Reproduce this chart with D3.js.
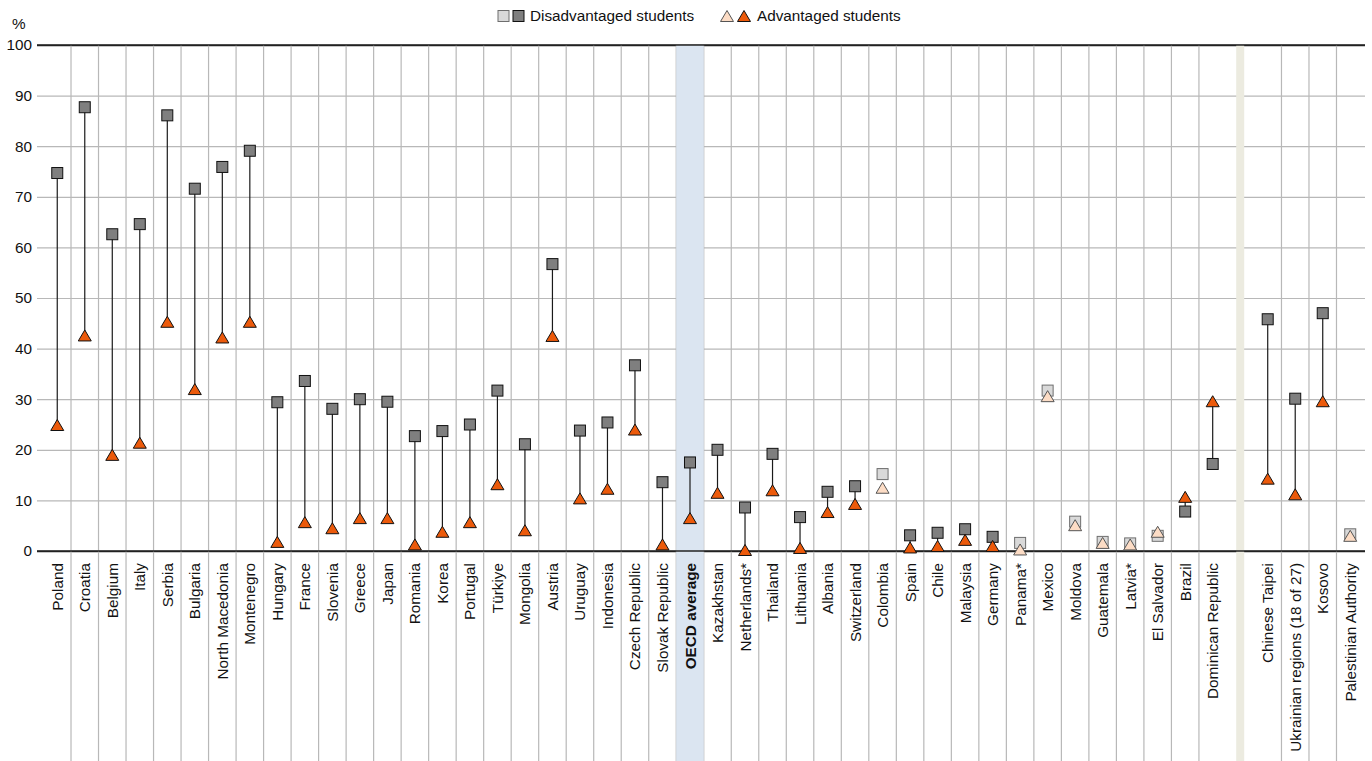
<!DOCTYPE html>
<html>
<head>
<meta charset="utf-8">
<script src="https://cdn.jsdelivr.net/npm/d3@7"></script>
<style>
  html, body { margin: 0; padding: 0; background: #fff; }
  svg { display: block; font-family: "Liberation Sans", Arial, sans-serif; }
</style>
</head>
<body>
<svg id="chart" width="1372" height="761"></svg>
<script>
// ---- data ----
const categories = ["Poland","Croatia","Belgium","Italy","Serbia","Bulgaria","North Macedonia","Montenegro","Hungary","France","Slovenia","Greece","Japan","Romania","Korea","Portugal","Türkiye","Mongolia","Austria","Uruguay","Indonesia","Czech Republic","Slovak Republic","OECD average","Kazakhstan","Netherlands*","Thailand","Lithuania","Albania","Switzerland","Colombia","Spain","Chile","Malaysia","Germany","Panama*","Mexico","Moldova","Guatemala","Latvia*","El Salvador","Brazil","Dominican Republic","","Chinese Taipei","Ukrainian regions (18 of 27)","Kosovo","Palestinian Authority"];
const disadvantaged = [74.7,87.7,62.6,64.6,86.1,71.6,75.9,79.1,29.4,33.6,28.1,30.0,29.5,22.7,23.7,25.0,31.7,21.1,56.7,23.8,25.4,36.7,13.6,17.5,20.0,8.6,19.2,6.7,11.7,12.8,15.2,3.1,3.6,4.3,2.8,1.6,31.7,5.8,1.8,1.5,3.0,7.8,17.2,null,45.8,30.1,47.0,3.3];
const advantaged = [24.9,42.6,19.0,21.4,45.3,32.0,42.2,45.3,1.8,5.7,4.5,6.5,6.5,1.3,3.8,5.7,13.2,4.1,42.5,10.4,12.3,24.0,1.3,6.5,11.5,0.2,12.0,0.6,7.7,9.3,12.5,0.7,1.0,2.2,1.0,0.3,30.6,5.1,1.6,1.3,3.8,10.7,29.6,null,14.3,11.2,29.6,3.0];
const significant = [1,1,1,1,1,1,1,1,1,1,1,1,1,1,1,1,1,1,1,1,1,1,1,1,1,1,1,1,1,1,0,1,1,1,1,0,0,0,0,0,0,1,1,null,1,1,1,0];
const yTicks = [0,10,20,30,40,50,60,70,80,90,100];
const averageLabel = "OECD average";
const legendLabels = ["Disadvantaged students","Advantaged students"];

// ---- styles ----
const C = {
  darkSq: "#7f7f7f", lightSq: "#d9d9d9",
  darkTri: "#ec5a0b", lightTri: "#fcdcc5",
  grid: "#b8b8b8", axis: "#222", oecd: "#dbe5f1", gap: "#ecebe0"
};
const FS = 15.3;

const svg = d3.select("#chart");
const idx = d3.range(categories.length);
const x = d3.scaleBand().domain(idx).range([43.5, 1364]).padding(0);
const y = d3.scaleLinear().domain([0, 100]).range([551, 45]);
const cx = i => x(i) + x.bandwidth() / 2;
const gapIdx = categories.indexOf("");
const avgIdx = categories.indexOf(averageLabel);

// horizontal gridlines + y labels
const yAxis = d3.axisLeft(y).tickValues(yTicks).tickSize(-(1365 - 37)).tickPadding(5);
const gy = svg.append("g").attr("transform", "translate(37,0)").call(yAxis);
gy.select(".domain").remove();
gy.selectAll(".tick line")
  .attr("stroke", d => (d === 0 || d === 100) ? C.axis : C.grid)
  .attr("stroke-width", d => (d === 0 || d === 100) ? 1.3 : 1.2);
gy.selectAll(".tick text").attr("font-size", FS).attr("fill", "#111")
  .attr("font-family", "'Liberation Sans', Arial, sans-serif");

// vertical gridlines (between categories)
const bounds = d3.range(1, categories.length).filter(i => i !== gapIdx && i - 1 !== gapIdx);
svg.append("g").selectAll("line").data(bounds).join("line")
  .attr("x1", i => x(i)).attr("x2", i => x(i))
  .attr("y1", 45).attr("y2", 761)
  .attr("stroke", C.grid).attr("stroke-width", 1.2);

// highlight bands
svg.append("rect").attr("x", x(avgIdx)).attr("width", x.bandwidth())
  .attr("y", 45).attr("height", 761 - 45).attr("fill", C.oecd);
svg.append("rect").attr("x", cx(gapIdx) - 4).attr("width", 8)
  .attr("y", 45).attr("height", 761 - 45).attr("fill", C.gap);

// redraw 0 and 100 lines over bands
[0, 100].forEach(v => {
  svg.append("line").attr("x1", 37).attr("x2", 1365).attr("y1", y(v)).attr("y2", y(v))
    .attr("stroke", C.axis).attr("stroke-width", 1.3);
});

// % label
svg.append("text").attr("x", 12).attr("y", 29).attr("font-size", FS).attr("fill", "#111").text("%");

// category labels
svg.append("g").selectAll("text").data(idx.filter(i => categories[i] !== "")).join("text")
  .attr("transform", i => `translate(${cx(i)},563) rotate(-90)`)
  .attr("text-anchor", "end").attr("dy", "0.36em")
  .attr("font-size", FS).attr("fill", "#111")
  .attr("font-weight", i => i === avgIdx ? "bold" : "normal")
  .text(i => categories[i]);

const pts = idx.filter(i => disadvantaged[i] !== null);

// connecting lines
svg.append("g").selectAll("line").data(pts.filter(i => significant[i])).join("line")
  .attr("x1", cx).attr("x2", cx)
  .attr("y1", i => y(disadvantaged[i])).attr("y2", i => y(advantaged[i]))
  .attr("stroke", "#1a1a1a").attr("stroke-width", 1.2);

const sq = 11, tw = 13, th = 11;
function square(g, sig) {
  g.attr("width", sq).attr("height", sq)
    .attr("fill", sig ? C.darkSq : C.lightSq)
    .attr("stroke", sig ? "#111" : "#6e6e6e").attr("stroke-width", 1);
}
const triPath = `M0,${-th/2}L${tw/2},${th/2}L${-tw/2},${th/2}Z`;

// squares
svg.append("g").selectAll("rect").data(pts).join("rect")
  .attr("x", i => cx(i) - sq / 2).attr("y", i => y(disadvantaged[i]) - sq / 2)
  .each(function(i) { square(d3.select(this), significant[i]); });

// triangles
svg.append("g").selectAll("path").data(pts).join("path")
  .attr("d", triPath)
  .attr("transform", i => `translate(${cx(i)},${y(advantaged[i])})`)
  .attr("fill", i => significant[i] ? C.darkTri : C.lightTri)
  .attr("stroke", i => significant[i] ? "#111" : "#555").attr("stroke-width", 1)
  .attr("stroke-linejoin", "miter");

// legend
const lg = svg.append("g");
lg.append("rect").attr("x", 498).attr("y", 10.5).call(g => square(g, false));
lg.append("rect").attr("x", 513).attr("y", 10.5).call(g => square(g, true));
lg.append("text").attr("x", 530).attr("y", 16).attr("dy", "0.35em").attr("font-size", FS).attr("fill", "#111").text(legendLabels[0]);
lg.append("path").attr("d", triPath).attr("transform", "translate(727,16)")
  .attr("fill", C.lightTri).attr("stroke", "#555");
lg.append("path").attr("d", triPath).attr("transform", "translate(744,16)")
  .attr("fill", C.darkTri).attr("stroke", "#111");
lg.append("text").attr("x", 757).attr("y", 16).attr("dy", "0.35em").attr("font-size", FS).attr("fill", "#111").text(legendLabels[1]);
</script>
</body>
</html>
